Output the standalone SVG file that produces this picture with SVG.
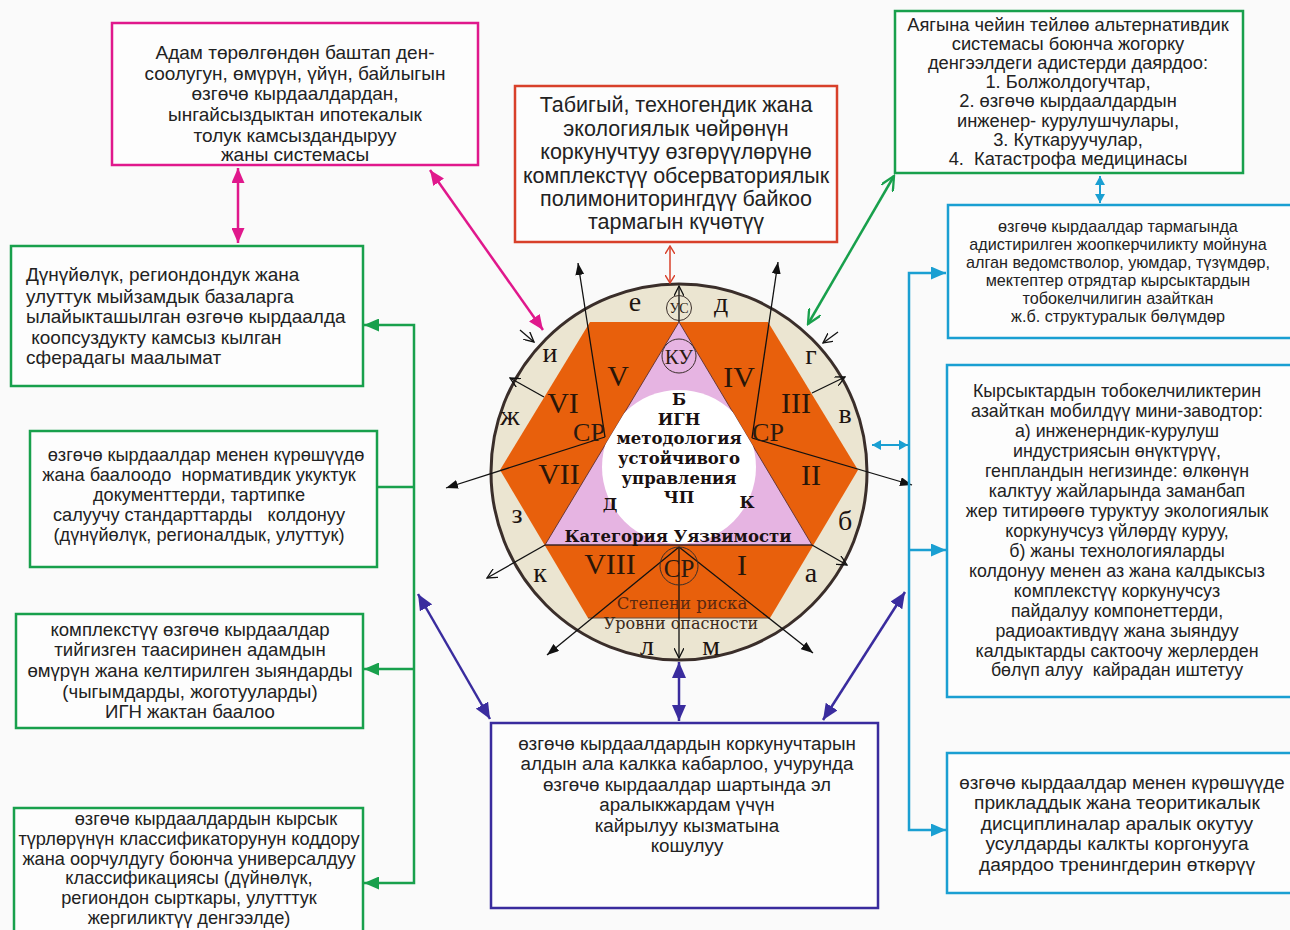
<svg xmlns="http://www.w3.org/2000/svg" width="1290" height="930" viewBox="0 0 1290 930">
<style>
.t{font-family:"Liberation Sans",Arial,sans-serif;fill:#222;text-anchor:middle}
.tl{font-family:"Liberation Sans",Arial,sans-serif;fill:#222;text-anchor:start}
.box{fill:#fdfdfd;stroke-width:2.5}
.rom{font-family:"Liberation Serif","Times New Roman",serif;font-size:30px;fill:#2a1608;text-anchor:middle}
.let{font-family:"Liberation Serif","Times New Roman",serif;font-size:28px;fill:#1e1410;text-anchor:middle}
.ctr{font-family:"DejaVu Serif",serif;font-weight:bold;font-size:16.5px;fill:#1a1010;text-anchor:middle}
.bl{stroke:#111;stroke-width:1.3;fill:none}
.c{fill:none;stroke-width:2.5}
</style>
<defs>
<marker id="mPink" viewBox="0 0 10 10" refX="10" refY="5" markerWidth="15" markerHeight="13" markerUnits="userSpaceOnUse" orient="auto-start-reverse" preserveAspectRatio="none"><path d="M0,0 L10,5 L0,10 z" fill="#e0188c"/></marker>
<marker id="mGreen" viewBox="0 0 10 10" refX="10" refY="5" markerWidth="15" markerHeight="13" markerUnits="userSpaceOnUse" orient="auto-start-reverse" preserveAspectRatio="none"><path d="M0,0 L10,5 L0,10 z" fill="#18a04c"/></marker>
<marker id="mGreenO" viewBox="0 0 10 10" refX="9" refY="5" markerWidth="16" markerHeight="14" markerUnits="userSpaceOnUse" orient="auto-start-reverse" preserveAspectRatio="none"><path d="M0,0 L9,5 L0,10" fill="none" stroke="#18a04c" stroke-width="1.6"/></marker>
<marker id="mCyan" viewBox="0 0 10 10" refX="10" refY="5" markerWidth="15" markerHeight="13" markerUnits="userSpaceOnUse" orient="auto-start-reverse" preserveAspectRatio="none"><path d="M0,0 L10,5 L0,10 z" fill="#1a9fd2"/></marker>
<marker id="mCyanS" viewBox="0 0 10 10" refX="10" refY="5" markerWidth="9" markerHeight="10" markerUnits="userSpaceOnUse" orient="auto-start-reverse" preserveAspectRatio="none"><path d="M0,0 L10,5 L0,10 z" fill="#1a9fd2"/></marker>
<marker id="mPurple" viewBox="0 0 10 10" refX="10" refY="5" markerWidth="16" markerHeight="14" markerUnits="userSpaceOnUse" orient="auto-start-reverse" preserveAspectRatio="none"><path d="M0,0 L10,5 L0,10 z" fill="#3a2c9e"/></marker>
<marker id="mRed" viewBox="0 0 10 10" refX="9" refY="5" markerWidth="9" markerHeight="10" markerUnits="userSpaceOnUse" orient="auto-start-reverse" preserveAspectRatio="none"><path d="M0,0 L9,5 L0,10" fill="none" stroke="#d8402a" stroke-width="1.5"/></marker>
<marker id="mBlk" viewBox="0 0 10 10" refX="10" refY="5" markerWidth="12" markerHeight="9" markerUnits="userSpaceOnUse" orient="auto" preserveAspectRatio="none"><path d="M0,0 L10,5 L0,10 z" fill="#111"/></marker>
<marker id="mBlkO" viewBox="0 0 10 10" refX="9" refY="5" markerWidth="11" markerHeight="10" markerUnits="userSpaceOnUse" orient="auto" preserveAspectRatio="none"><path d="M0,0 L9,5 L0,10" fill="none" stroke="#111" stroke-width="1.3"/></marker>
<clipPath id="triClip"><path d="M679,322 L545,545 L812,545 Z"/></clipPath>
</defs>
<rect width="1290" height="930" fill="#fafafa"/>

<g id="wheel">
<circle cx="679" cy="472" r="188" fill="#ebe5d1" stroke="#3a2e2a" stroke-width="3"/>
<path d="M590,322 L768,322 L858,470 L770,618 L588,618 L500,470 Z" fill="#e8600c"/>
<line x1="588" y1="618" x2="770" y2="618" stroke="#6a4a3a" stroke-width="1"/>
<path d="M679,322 L545,545 L812,545 Z" fill="#e6b4e2" stroke="#5a3030" stroke-width="0.9"/>
<circle cx="679" cy="467" r="77" fill="#fff" clip-path="url(#triClip)"/>
<line x1="545" y1="545" x2="812" y2="545" stroke="#2a1a1a" stroke-width="1.2"/>
</g>

<g id="wheel-lines">
<line class="bl" x1="605" y1="437" x2="578" y2="263" marker-end="url(#mBlk)"/>
<line class="bl" x1="605" y1="437" x2="446" y2="488" marker-end="url(#mBlk)"/>
<line class="bl" x1="752" y1="438" x2="778" y2="262" marker-end="url(#mBlk)"/>
<line class="bl" x1="752" y1="438" x2="912" y2="485" marker-end="url(#mBlk)"/>
<line class="bl" x1="679" y1="322" x2="679" y2="286" marker-end="url(#mBlkO)"/>
<line class="bl" x1="679" y1="547" x2="547" y2="655" marker-end="url(#mBlk)"/>
<line class="bl" x1="679" y1="547" x2="813" y2="653" marker-end="url(#mBlk)"/>
<line class="bl" x1="679" y1="547" x2="679" y2="658" marker-end="url(#mBlkO)"/>
<line class="bl" x1="544" y1="397" x2="510" y2="378" marker-end="url(#mBlkO)"/>
<line class="bl" x1="812" y1="393" x2="845" y2="377" marker-end="url(#mBlkO)"/>
<line class="bl" x1="545" y1="545" x2="487" y2="578" marker-end="url(#mBlkO)"/>
<line class="bl" x1="812" y1="545" x2="847" y2="565" marker-end="url(#mBlkO)"/>
<line class="bl" x1="520" y1="330" x2="534" y2="342" marker-end="url(#mBlkO)"/>
<line class="bl" x1="838" y1="332" x2="823" y2="343" marker-end="url(#mBlkO)"/>
</g>

<g id="wheel-labels">
<circle cx="679" cy="308" r="12.5" fill="none" stroke="#3a2e2a" stroke-width="1"/>
<text x="679" y="313" font-family="Liberation Serif,serif" font-size="14" fill="#2a1a10" text-anchor="middle">УС</text>
<circle cx="679" cy="356" r="17" fill="none" stroke="#3a2e2a" stroke-width="1"/>
<text x="679" y="364" font-family="Liberation Serif,serif" font-size="21" fill="#2a1a10" text-anchor="middle">КУ</text>
<circle cx="679" cy="566" r="19" fill="none" stroke="#3a2e2a" stroke-width="1"/>
<text x="679" y="577" font-family="Liberation Serif,serif" font-size="25" fill="#2a1a10" text-anchor="middle">СР</text>
<text x="589" y="441" font-family="Liberation Serif,serif" font-size="26" fill="#2a1a10" text-anchor="middle">СР</text>
<text x="768" y="441" font-family="Liberation Serif,serif" font-size="26" fill="#2a1a10" text-anchor="middle">СР</text>

<text class="rom" x="618" y="386">V</text>
<text class="rom" x="563" y="413">VI</text>
<text class="rom" x="739" y="387">IV</text>
<text class="rom" x="796" y="413">III</text>
<text class="rom" x="559" y="484">VII</text>
<text class="rom" x="811" y="485">II</text>
<text class="rom" x="610" y="574">VIII</text>
<text class="rom" x="742" y="575">I</text>

<text class="let" x="635" y="311">е</text>
<text class="let" x="721" y="312">д</text>
<text class="let" x="811" y="364">г</text>
<text class="let" x="845" y="423">в</text>
<text class="let" x="845" y="530">б</text>
<text class="let" x="811" y="582">а</text>
<text class="let" x="711" y="655" font-size="24">м</text>
<text class="let" x="647" y="655" font-size="24">л</text>
<text class="let" x="540" y="582">к</text>
<text class="let" x="517" y="523">з</text>
<text class="let" x="510" y="425">ж</text>
<text class="let" x="550" y="362">и</text>

<text class="ctr" x="679" y="405">Б</text>
<text class="ctr" x="679" y="425">ИГН</text>
<text class="ctr" x="679" y="444">методология</text>
<text class="ctr" x="679" y="464">устойчивого</text>
<text class="ctr" x="679" y="484">управления</text>
<text class="ctr" x="679" y="503">ЧП</text>
<text class="ctr" x="610" y="510" font-size="15">Д</text>
<text class="ctr" x="747" y="508" font-size="15">К</text>
<text class="ctr" x="678" y="542" font-size="15">Категория Уязвимости</text>
<text x="682" y="609" font-family="DejaVu Serif,serif" font-size="16.5" fill="#5a2810" text-anchor="middle">Степени риска</text>
<text x="681" y="629" font-family="DejaVu Serif,serif" font-size="16" fill="#3a2818" text-anchor="middle">Уровни опасности</text>
</g>

<g id="connectors">
<line class="c" stroke="#e0188c" x1="238" y1="168" x2="238" y2="243" marker-start="url(#mPink)" marker-end="url(#mPink)"/>
<line class="c" stroke="#e0188c" x1="430" y1="170" x2="543" y2="330" marker-start="url(#mPink)" marker-end="url(#mPink)"/>
<line stroke="#d8402a" stroke-width="1.5" x1="670" y1="246" x2="670" y2="283" marker-start="url(#mRed)" marker-end="url(#mRed)"/>
<line class="c" stroke="#18a04c" x1="808" y1="324" x2="894" y2="176" marker-start="url(#mGreenO)" marker-end="url(#mGreenO)"/>
<line stroke="#1a9fd2" stroke-width="2" x1="1100" y1="176" x2="1100" y2="203" marker-start="url(#mCyanS)" marker-end="url(#mCyanS)"/>
<line stroke="#1a9fd2" stroke-width="2" x1="872" y1="445" x2="908" y2="445" marker-start="url(#mCyanS)" marker-end="url(#mCyanS)"/>
<polyline class="c" stroke="#1a9fd2" points="946,273 909,273 909,830 946,830" marker-start="url(#mCyan)" marker-end="url(#mCyan)"/>
<line class="c" stroke="#1a9fd2" x1="909" y1="550" x2="946" y2="550" marker-end="url(#mCyan)"/>
<line class="c" stroke="#3a2c9e" x1="679" y1="662" x2="679" y2="721" marker-start="url(#mPurple)" marker-end="url(#mPurple)"/>
<line class="c" stroke="#3a2c9e" x1="418" y1="594" x2="490" y2="719" marker-start="url(#mPurple)" marker-end="url(#mPurple)"/>
<line class="c" stroke="#3a2c9e" x1="823" y1="720" x2="905" y2="592" marker-start="url(#mPurple)" marker-end="url(#mPurple)"/>
<polyline class="c" stroke="#18a04c" points="364,325 414,325 414,883 364,883" marker-start="url(#mGreen)" marker-end="url(#mGreen)"/>
<line class="c" stroke="#18a04c" x1="377" y1="487" x2="414" y2="487"/>
<line class="c" stroke="#18a04c" x1="414" y1="669" x2="364" y2="669" marker-end="url(#mGreen)"/>
</g>

<g id="n-pink">
<rect class="box" x="112" y="23" width="366" height="142" stroke="#e0188c"/>
<text class="t" font-size="19"><tspan x="295" y="59">Адам төрөлгөндөн баштап ден-</tspan><tspan x="295" y="80">соолугун, өмүрүн, үйүн, байлыгын</tspan><tspan x="295" y="100">өзгөчө кырдаалдардан,</tspan><tspan x="295" y="121">ынгайсыздыктан ипотекалык</tspan><tspan x="295" y="142">толук камсыздандыруу</tspan><tspan x="295" y="161">жаны системасы</tspan></text>
</g>

<g id="n-red">
<rect class="box" x="515" y="86" width="322" height="156" stroke="#d8402a"/>
<text class="t" font-size="21.5"><tspan x="676" y="112">Табигый, техногендик жана</tspan><tspan x="676" y="136">экологиялык чөйрөнүн</tspan><tspan x="676" y="159">коркунучтуу өзгөрүүлөрүнө</tspan><tspan x="676" y="183">комплекстүү обсерваториялык</tspan><tspan x="676" y="206">полимониторингдүү байкоо</tspan><tspan x="676" y="229">тармагын күчөтүү</tspan></text>
</g>

<g id="n-green-top">
<rect class="box" x="895" y="11" width="348" height="162" stroke="#18a04c"/>
<text class="t" font-size="18.3" xml:space="preserve"><tspan x="1068" y="31">Аягына чейин тейлөө альтернативдик</tspan><tspan x="1068" y="50">системасы боюнча жогорку</tspan><tspan x="1068" y="69">денгээлдеги адистерди даярдоо:</tspan><tspan x="1068" y="88">1. Болжолдогучтар,</tspan><tspan x="1068" y="107">2. өзгөчө кырдаалдардын</tspan><tspan x="1068" y="127">инженер- курулушчулары,</tspan><tspan x="1068" y="146">3. Куткаруучулар,</tspan><tspan x="1068" y="165">4.  Катастрофа медицинасы</tspan></text>
</g>

<g id="n-cyan-1">
<rect class="box" x="948" y="205" width="360" height="133" stroke="#1a9fd2"/>
<text class="t" font-size="16.2"><tspan x="1118" y="232">өзгөчө кырдаалдар тармагында</tspan><tspan x="1118" y="250">адистирилген жоопкерчиликту мойнуна</tspan><tspan x="1118" y="268">алган ведомстволор, уюмдар, түзүмдөр,</tspan><tspan x="1118" y="286">мектептер отрядтар кырсыктардын</tspan><tspan x="1118" y="304">тобокелчилигин азайткан</tspan><tspan x="1118" y="322">ж.б. структуралык бөлүмдөр</tspan></text>
</g>

<g id="n-cyan-2">
<rect class="box" x="947" y="365" width="360" height="332" stroke="#1a9fd2"/>
<text class="t" font-size="17.8" xml:space="preserve"><tspan x="1117" y="397">Кырсыктардын тобокелчиликтерин</tspan><tspan x="1117" y="417">азайткан мобилдүү мини-заводтор:</tspan><tspan x="1117" y="437">а) инженерндик-курулуш</tspan><tspan x="1117" y="457">индустриясын өнүктүрүү,</tspan><tspan x="1117" y="477">генпландын негизинде: өлкөнүн</tspan><tspan x="1117" y="497">калктуу жайларында заманбап</tspan><tspan x="1117" y="517">жер титирөөгө туруктуу экологиялык</tspan><tspan x="1117" y="537">коркунучсуз үйлөрдү куруу,</tspan><tspan x="1117" y="557">б) жаны технологияларды</tspan><tspan x="1117" y="577">колдонуу менен аз жана калдыксыз</tspan><tspan x="1117" y="597">комплекстүү коркунучсуз</tspan><tspan x="1117" y="617">пайдалуу компонеттерди,</tspan><tspan x="1117" y="637">радиоактивдүү жана зыяндуу</tspan><tspan x="1117" y="657">калдыктарды сактоочу жерлерден</tspan><tspan x="1117" y="676">бөлүп алуу  кайрадан иштетуу</tspan></text>
</g>

<g id="n-cyan-3">
<rect class="box" x="947" y="753" width="360" height="140" stroke="#1a9fd2"/>
<text class="t" font-size="19.2"><tspan x="1122" y="789" font-size="18.7">өзгөчө кырдаалдар менен күрөшүүде</tspan><tspan x="1117" y="809">прикладдык жана теоритикалык</tspan><tspan x="1117" y="830">дисциплиналар аралык окутуу</tspan><tspan x="1117" y="850">усулдарды калкты коргонууга</tspan><tspan x="1117" y="871">даярдоо тренингдерин өткөрүү</tspan></text>
</g>

<g id="n-purple">
<rect class="box" x="491" y="723" width="387" height="185" stroke="#3a2c9e"/>
<text class="t" font-size="18.8"><tspan x="687" y="750">өзгөчө кырдаалдардын коркунучтарын</tspan><tspan x="687" y="770">алдын ала калкка кабарлоо, учурунда</tspan><tspan x="687" y="791">өзгөчө кырдаалдар шартында эл</tspan><tspan x="687" y="811">аралыкжардам үчүн</tspan><tspan x="687" y="832">кайрылуу кызматына</tspan><tspan x="687" y="852">кошулуу</tspan></text>
</g>

<g id="n-green-a">
<rect class="box" x="11" y="246" width="352" height="140" stroke="#18a04c"/>
<text class="tl" font-size="19" xml:space="preserve"><tspan x="26" y="281">Дүнүйөлүк, региондондук жана</tspan><tspan x="26" y="303">улуттук мыйзамдык базаларга</tspan><tspan x="26" y="323">ылайыкташылган өзгөчө кырдаалда</tspan><tspan x="26" y="344"> коопсуздукту камсыз кылган</tspan><tspan x="26" y="364">сферадагы маалымат</tspan></text>
</g>

<g id="n-green-b">
<rect class="box" x="30" y="431" width="347" height="136" stroke="#18a04c"/>
<text class="t" font-size="18.2" xml:space="preserve"><tspan x="206" y="461">өзгөчө кырдаалдар менен күрөшүүдө</tspan><tspan x="199" y="481">жана баалоодо  нормативдик укуктук</tspan><tspan x="199" y="501">документтерди, тартипке</tspan><tspan x="199" y="521">салуучу стандарттарды   колдонуу</tspan><tspan x="199" y="541">(дүнүйөлүк, регионалдык, улуттук)</tspan></text>
</g>

<g id="n-green-c">
<rect class="box" x="16" y="614" width="347" height="114" stroke="#18a04c"/>
<text class="t" font-size="18.6"><tspan x="190" y="636">комплекстүү өзгөчө кырдаалдар</tspan><tspan x="190" y="656">тийгизген таасиринен адамдын</tspan><tspan x="190" y="677">өмүрүн жана келтирилген зыяндарды</tspan><tspan x="190" y="698">(чыгымдарды, жоготууларды)</tspan><tspan x="190" y="718">ИГН жактан баалоо</tspan></text>
</g>

<g id="n-green-d">
<rect class="box" x="14" y="808" width="349" height="140" stroke="#18a04c"/>
<text class="t" font-size="18.2"><tspan x="206" y="825">өзгөчө кырдаалдардын кырсык</tspan><tspan x="189" y="845">түрлөрүнүн классификаторунун коддору</tspan><tspan x="189" y="865">жана оорчулдугу боюнча универсалдуу</tspan><tspan x="189" y="884">классификациясы (дүйнөлүк,</tspan><tspan x="189" y="904">региондон сырткары, улутттук</tspan><tspan x="189" y="924">жергиликтүү денгээлде)</tspan></text>
</g>
</svg>
